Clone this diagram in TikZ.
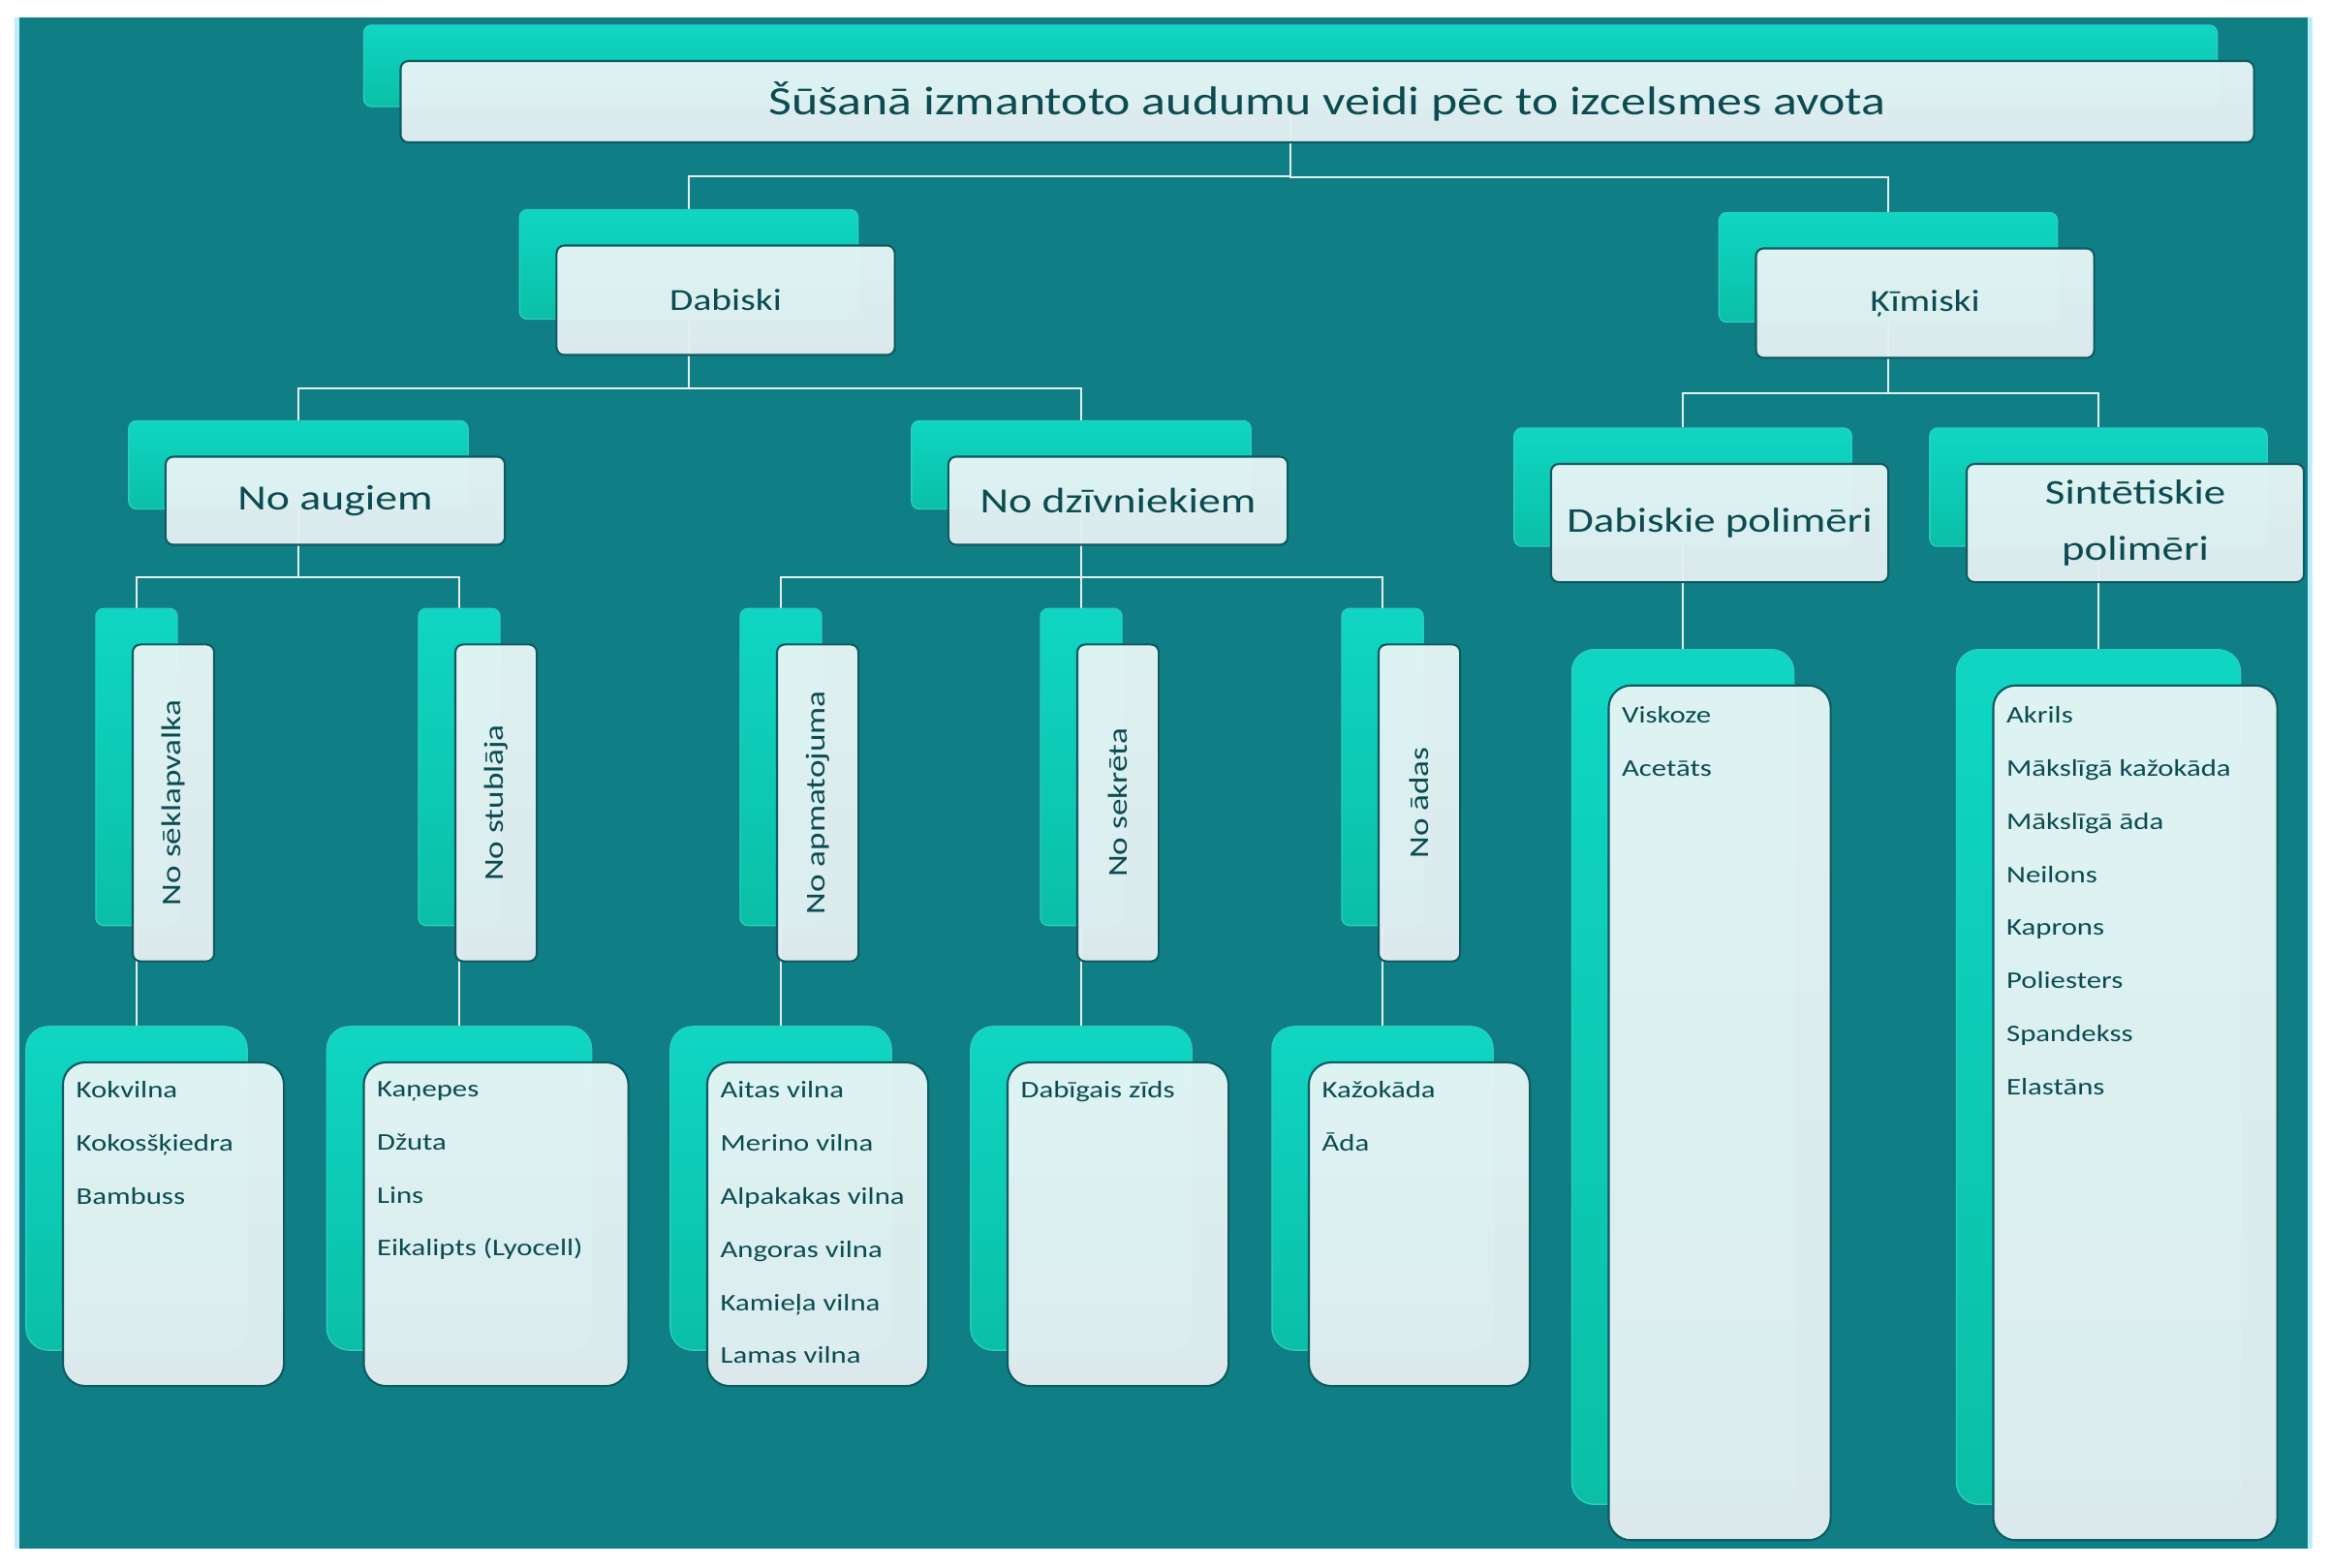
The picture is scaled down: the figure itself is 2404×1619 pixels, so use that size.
\documentclass[tikz,border=0pt]{standalone}
\usepackage{fontspec}
\setmainfont{Carlito}[FakeStretch=1.25]
\usetikzlibrary{calc,backgrounds}

\definecolor{sea}{HTML}{107E85}
\definecolor{frame}{HTML}{BDEDFD}
\definecolor{jadetop}{HTML}{0FD6C3}
\definecolor{jadebot}{HTML}{0BBFA7}
\definecolor{jaderim}{HTML}{2BCDBE}
\definecolor{paper}{HTML}{E6F5F5}
\definecolor{paperlow}{HTML}{E4EEF1}
\definecolor{rim}{HTML}{0E5B62}
\definecolor{ink}{HTML}{0B4B51}
\definecolor{wire}{HTML}{E2F0F0}

\begin{document}
\begin{tikzpicture}[x=0.01cm,y=-0.01cm,
  back/.style={rounded corners=0.08cm,top color=jadetop,bottom color=jadebot,draw=jaderim,line width=0.4pt,inner sep=0pt},
  front/.style={rounded corners=0.08cm,top color=paper,bottom color=paperlow,fill opacity=0.96,text opacity=1,draw=rim,line width=0.6pt,text=ink,inner sep=0pt,align=center,xshift=0.38cm,yshift=-0.37cm},
  ttlbox/.style={minimum width=19.12cm,minimum height=0.84cm,font=\fontsize{11.8}{14}\selectfont},
  topbox/.style={minimum width=3.49cm,minimum height=1.13cm,font=\fontsize{9}{11}\selectfont},
  midbox/.style={minimum width=3.50cm,minimum height=0.91cm,font=\fontsize{10.4}{12}\selectfont},
  polybox/.style={minimum width=3.48cm,minimum height=1.22cm,font=\fontsize{10.2}{16.5}\selectfont},
  upbox/.style={minimum width=0.84cm,minimum height=3.27cm,font=\fontsize{8}{10}\selectfont},
  listbox/.style={rounded corners=0.23cm,minimum width=2.28cm,minimum height=3.34cm},
  longbox/.style={rounded corners=0.23cm,minimum height=8.82cm},
  items/.style={anchor=north west,text=ink,font=\fontsize{7}{15.6}\selectfont,align=left,inner sep=0pt},
  wire/.style={draw=wire,line width=0.55pt}]
\useasboundingbox (0,0) rectangle (2404,1619);

\node[back,ttlbox] (ttl) at (1332,68) {};
\node[front,ttlbox] (ttl-f) at (ttl.center) {Šūšanā izmantoto audumu veidi pēc to izcelsmes avota};

\node[back,topbox] (dab) at (711,273) {};
\node[front,topbox] (dab-f) at (dab.center) {Dabiski};
\node[back,topbox] (kim) at (1949,276) {};
\node[front,topbox] (kim-f) at (kim.center) {Ķīmiski};

\node[back,midbox] (aug) at (308,480) {};
\node[front,midbox] (aug-f) at (aug.center) {No augiem};
\node[back,midbox] (dzi) at (1116,480) {};
\node[front,midbox] (dzi-f) at (dzi.center) {No dzīvniekiem};
\node[back,polybox] (dpo) at (1737,503) {};
\node[front,polybox] (dpo-f) at (dpo.center) {Dabiskie polimēri};
\node[back,polybox] (spo) at (2166,503) {};
\node[front,polybox] (spo-f) at (spo.center) {Sintētiskie\\polimēri};

\node[back,upbox] (sek) at (141,792) {};
\node[front,upbox] (sek-f) at (sek.center) {\rotatebox{90}{No sēklapvalka}};
\node[back,upbox] (stu) at (474,792) {};
\node[front,upbox] (stu-f) at (stu.center) {\rotatebox{90}{No stublāja}};
\node[back,upbox] (apm) at (806,792) {};
\node[front,upbox] (apm-f) at (apm.center) {\rotatebox{90}{No apmatojuma}};
\node[back,upbox] (sec) at (1116,792) {};
\node[front,upbox] (sec-f) at (sec.center) {\rotatebox{90}{No sekrēta}};
\node[back,upbox] (ada) at (1427,792) {};
\node[front,upbox] (ada-f) at (ada.center) {\rotatebox{90}{No ādas}};

\node[back,listbox] (l1) at (141,1227) {};
\node[front,listbox] (l1-f) at (l1.center) {};
\node[back,listbox,minimum width=2.73cm] (l2) at (474,1227) {};
\node[front,listbox,minimum width=2.73cm] (l2-f) at (l2.center) {};
\node[back,listbox] (l3) at (806,1227) {};
\node[front,listbox] (l3-f) at (l3.center) {};
\node[back,listbox] (l4) at (1116,1227) {};
\node[front,listbox] (l4-f) at (l4.center) {};
\node[back,listbox] (l5) at (1427,1227) {};
\node[front,listbox] (l5-f) at (l5.center) {};
\node[back,longbox,minimum width=2.29cm] (l6) at (1737,1112) {};
\node[front,longbox,minimum width=2.29cm] (l6-f) at (l6.center) {};
\node[back,longbox,minimum width=2.93cm] (l7) at (2166,1112) {};
\node[front,longbox,minimum width=2.93cm] (l7-f) at (l7.center) {};

\node[items] (l1-t) at ([xshift=0.14cm,yshift=-0.2cm]l1-f.north west) {Kokvilna\\Kokosšķiedra\\Bambuss};
\node[items] (l2-t) at ([xshift=0.14cm,yshift=-0.2cm]l2-f.north west) {Kaņepes\\Džuta\\Lins\\Eikalipts (Lyocell)};
\node[items] (l3-t) at ([xshift=0.14cm,yshift=-0.2cm]l3-f.north west) {Aitas vilna\\Merino vilna\\Alpakakas vilna\\Angoras vilna\\Kamieļa vilna\\Lamas vilna};
\node[items] (l4-t) at ([xshift=0.14cm,yshift=-0.2cm]l4-f.north west) {Dabīgais zīds};
\node[items] (l5-t) at ([xshift=0.14cm,yshift=-0.2cm]l5-f.north west) {Kažokāda\\Āda};
\node[items] (l6-t) at ([xshift=0.14cm,yshift=-0.22cm]l6-f.north west) {Viskoze\\Acetāts};
\node[items] (l7-t) at ([xshift=0.14cm,yshift=-0.22cm]l7-f.north west) {Akrils\\Mākslīgā kažokāda\\Mākslīgā āda\\Neilons\\Kaprons\\Poliesters\\Spandekss\\Elastāns};

\begin{scope}[on background layer]
\fill[frame] (15,18) rectangle (2387,1599);
\fill[sea] (20,18) rectangle (2382,1599);
\foreach \p/\c in {ttl/dab,ttl/kim,dab/aug,dab/dzi,kim/dpo,kim/spo,aug/sek,aug/stu,dzi/apm,dzi/sec,dzi/ada,sek/l1,stu/l2,apm/l3,sec/l4,ada/l5,dpo/l6,spo/l7}
  \draw[wire] (\p.center) -- ($(\p.center |- \p-f.south)!.5!(\p.center |- \c.north)$) -| (\c.north);
\end{scope}
\end{tikzpicture}
\end{document}
